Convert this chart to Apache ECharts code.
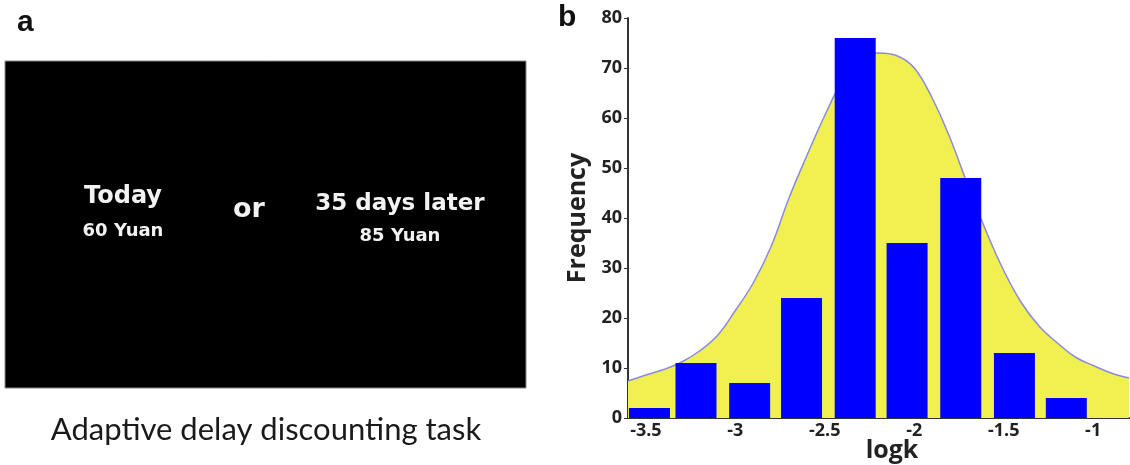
<!DOCTYPE html>
<html>
<head>
<meta charset="utf-8">
<script src="https://cdn.jsdelivr.net/npm/echarts@6/dist/echarts.min.js"></script>
<style>
html,body{margin:0;padding:0;background:#fff;}
#main{width:1130px;height:465px;}
</style>
</head>
<body>
<div id="main"></div>
<script>
// ---- data ----
var binCenters = [-3.48, -3.22, -2.92, -2.63, -2.33, -2.04, -1.74, -1.44, -1.15];
var frequencies = [2, 11, 7, 24, 76, 35, 48, 13, 4];
var curveX = [-3.6, -3.5, -3.4, -3.3, -3.2, -3.1, -3.0, -2.9, -2.8, -2.7, -2.6, -2.5, -2.4, -2.3, -2.2, -2.1, -2.0, -1.9, -1.8, -1.7, -1.6, -1.5, -1.4, -1.3, -1.2, -1.1, -1.0, -0.9, -0.8];
var curveY = [7.4, 8.6, 9.7, 11.2, 13.4, 16.5, 21.5, 27, 34.3, 44, 52.5, 60.5, 67.5, 71.5, 73, 72.5, 70, 64, 56, 46.5, 37.5, 29.5, 23, 18.3, 15, 12.2, 10.5, 9, 8];
var xTicks = [-3.5, -3, -2.5, -2, -1.5, -1];

var barData = binCenters.map(function (c, i) { return [c, frequencies[i]]; });
var curveData = curveX.map(function (x, i) { return [x, curveY[i]]; });

var chart = echarts.init(document.getElementById('main'), null, {renderer: 'canvas'});
var axisFont = '"Open Sans", sans-serif';
chart.setOption({
  backgroundColor: '#ffffff',
  animation: false,
  grid: {left: 628, right: 0, top: 18, bottom: 47, containLabel: false, outerBoundsMode: 'none'},
  xAxis: {
    type: 'value',
    min: -3.6,
    max: -0.794,
    axisLine: {show: true, lineStyle: {color: '#333', width: 2}},
    axisTick: {show: true, inside: true, length: 4, customValues: xTicks, lineStyle: {color: '#333'}},
    axisLabel: {customValues: xTicks, margin: 4, fontFamily: axisFont, fontWeight: 'bold', fontSize: 18, color: '#222'},
    splitLine: {show: false}
  },
  yAxis: {
    type: 'value',
    min: 0,
    max: 80,
    interval: 10,
    name: 'Frequency',
    nameLocation: 'middle',
    nameGap: 38,
    nameTextStyle: {fontFamily: axisFont, fontWeight: 'bold', fontSize: 25, color: '#222'},
    axisLine: {show: true, lineStyle: {color: '#333', width: 2}},
    axisTick: {show: true, length: 4, lineStyle: {color: '#333'}},
    axisLabel: {margin: 6, fontFamily: axisFont, fontWeight: 'bold', fontSize: 18, color: '#222'},
    splitLine: {show: false}
  },
  series: [
    {
      type: 'line',
      data: curveData,
      smooth: 0.4,
      symbol: 'none',
      lineStyle: {color: '#8a8ae0', width: 1.5},
      areaStyle: {color: '#f0f050', opacity: 1},
      z: 1
    },
    {
      type: 'bar',
      data: barData,
      barWidth: 41,
      itemStyle: {color: '#0000ff'},
      z: 3
    }
  ],
  graphic: [
    {type: 'text', left: 17, top: 8, style: {text: 'a', fontFamily: '"Liberation Sans", Arial, sans-serif', fontWeight: 'bold', fontSize: 30, fill: '#111'}},
    {type: 'text', left: 558, top: 3, style: {text: 'b', fontFamily: '"Liberation Sans", Arial, sans-serif', fontWeight: 'bold', fontSize: 30, fill: '#111'}},
    {type: 'rect', shape: {x: 5, y: 61, width: 521, height: 327}, style: {fill: '#000', stroke: '#888', lineWidth: 1}},
    {type: 'text', x: 123, y: 197, style: {text: 'Today', fontFamily: '"DejaVu Sans", sans-serif', fontWeight: 'bold', fontSize: 24, fill: '#f2f2f2', align: 'center', verticalAlign: 'middle'}},
    {type: 'text', x: 123, y: 231, style: {text: '60 Yuan', fontFamily: '"DejaVu Sans", sans-serif', fontWeight: 'bold', fontSize: 18, fill: '#f2f2f2', align: 'center', verticalAlign: 'middle'}},
    {type: 'text', x: 249, y: 210, style: {text: 'or', fontFamily: '"DejaVu Sans", sans-serif', fontWeight: 'bold', fontSize: 27, fill: '#f2f2f2', align: 'center', verticalAlign: 'middle'}},
    {type: 'text', x: 400, y: 204, style: {text: '35 days later', fontFamily: '"DejaVu Sans", sans-serif', fontWeight: 'bold', fontSize: 23, fill: '#f2f2f2', align: 'center', verticalAlign: 'middle'}},
    {type: 'text', x: 400, y: 236, style: {text: '85 Yuan', fontFamily: '"DejaVu Sans", sans-serif', fontWeight: 'bold', fontSize: 18, fill: '#f2f2f2', align: 'center', verticalAlign: 'middle'}},
    {type: 'text', x: 266, y: 430, style: {text: 'Adaptive delay discounting task', fontFamily: 'Lato, sans-serif', fontSize: 31, fill: '#1a1a1a', align: 'center', verticalAlign: 'middle'}},
    {type: 'text', x: 892, y: 451, style: {text: 'logk', fontFamily: axisFont, fontWeight: 'bold', fontSize: 25, fill: '#222', align: 'center', verticalAlign: 'middle'}}
  ]
});
</script>
</body>
</html>
